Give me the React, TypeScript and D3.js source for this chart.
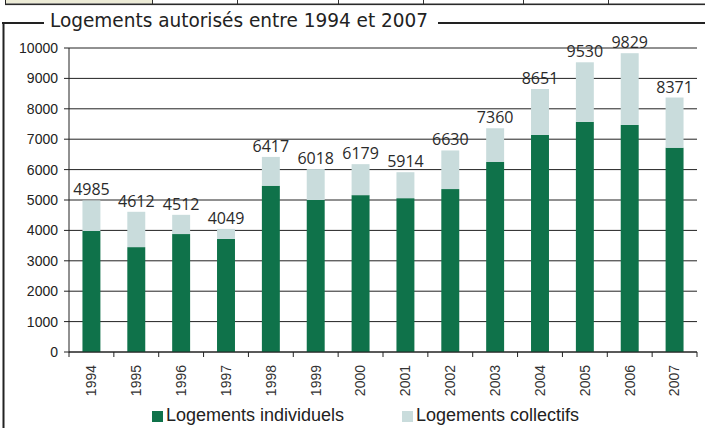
import React from 'react';
import * as d3 from 'd3';

const years = ['1994', '1995', '1996', '1997', '1998', '1999', '2000', '2001', '2002', '2003', '2004', '2005', '2006', '2007'];
const individuels = [3980, 3450, 3880, 3720, 5470, 5000, 5160, 5060, 5360, 6250, 7140, 7570, 7470, 6720];
const collectifs = [1005, 1162, 632, 329, 947, 1018, 1019, 854, 1270, 1110, 1511, 1960, 2359, 1651];
const yTicks = [0, 1000, 2000, 3000, 4000, 5000, 6000, 7000, 8000, 9000, 10000];
const seriesNames = ['Logements individuels', 'Logements collectifs'];
const colors = ['#0f724a', '#c9dcdc'];
const stripDividers = [152, 237, 338, 423, 523, 608];

const W = 705, H = 428;
const left = 69, right = 697, top = 48, bottom = 352;

export default function App() {
  const x = d3.scaleBand().domain(years).range([left, right]).paddingInner(0.6).paddingOuter(0.3);
  const y = d3.scaleLinear().domain([0, 10000]).range([bottom, top]);

  const rows = years.map((yr, i) => ({ year: yr, ind: individuels[i], col: collectifs[i] }));
  const stacked = d3.stack<any>().keys(['ind', 'col'])(rows);
  const step = x.step();
  const font = "'Liberation Sans', Arial, sans-serif";

  return (
    <svg width={W} height={H} style={{ position: 'absolute', left: 0, top: 0, background: '#fff' }}>
      {/* bit of the table above */}
      <rect x={5} y={0} width={147} height={3.5} fill="#ecebd6" />
      <line x1={5.5} x2={5.5} y1={0} y2={4} stroke="#222" />
      {stripDividers.map(d => (
        <line key={d} x1={d + 0.5} x2={d + 0.5} y1={0} y2={4} stroke="#333" />
      ))}
      <rect x={5} y={3.5} width={W - 5} height={1.6} fill="#2a2a2a" />

      {/* frame + title */}
      <line x1={2} x2={W} y1={23} y2={23} stroke="#222" strokeWidth={2} />
      <line x1={3.5} x2={3.5} y1={22} y2={H} stroke="#222" strokeWidth={2} />
      <rect x={44} y={12} width={394} height={20} fill="#fff" />
      <text x={50} y={27} fontFamily="'DejaVu Sans Condensed', Verdana, sans-serif" fontSize={19}
        fill="#222" textLength={378} lengthAdjust="spacingAndGlyphs">
        Logements autorisés entre 1994 et 2007
      </text>

      {/* grid */}
      {yTicks.map(t => (
        <g key={t}>
          <line x1={left} x2={right} y1={y(t)} y2={y(t)} stroke="#222" strokeWidth={1} />
          <line x1={left - 5} x2={left} y1={y(t)} y2={y(t)} stroke="#222" />
          <text x={58} y={y(t)} dy="0.35em" textAnchor="end" fontFamily={font} fontSize={14} fill="#222">{t}</text>
        </g>
      ))}

      {/* bars */}
      {stacked.map((s, si) => (
        <g key={si} fill={colors[si]}>
          {s.map((d, i) => (
            <rect key={i} x={x(years[i])!} width={x.bandwidth()} y={y(d[1])} height={y(d[0]) - y(d[1])} />
          ))}
        </g>
      ))}

      {/* totals */}
      {rows.map(r => (
        <text key={r.year} x={x(r.year)! + x.bandwidth() / 2} y={y(r.ind + r.col) - 5} textAnchor="middle"
          fontFamily="'Open Sans', sans-serif" fontSize={16} fill="#2a2a2a">{r.ind + r.col}</text>
      ))}

      {/* axes */}
      <line x1={left} x2={left} y1={top} y2={bottom + 0.5} stroke="#222" />
      <line x1={left} x2={right} y1={bottom} y2={bottom} stroke="#222" />
      {d3.range(years.length + 1).map(i => {
        const xx = left + i * step;
        return <line key={i} x1={xx} x2={xx} y1={bottom} y2={bottom + 5} stroke="#222" />;
      })}
      {years.map(yr => (
        <text key={yr} transform={`translate(${x(yr)! + x.bandwidth() / 2},365) rotate(-90)`} dy="0.35em"
          textAnchor="end" fontFamily={font} fontSize={14} fill="#333">{yr}</text>
      ))}

      {/* legend */}
      {seriesNames.map((n, i) => {
        const lx = i === 0 ? 152 : 402;
        return (
          <g key={n}>
            <rect x={lx} y={411} width={11} height={11} fill={colors[i]} />
            <text x={lx + 14} y={421} fontFamily={font} fontSize={18} fill="#222">{n}</text>
          </g>
        );
      })}
    </svg>
  );
}
